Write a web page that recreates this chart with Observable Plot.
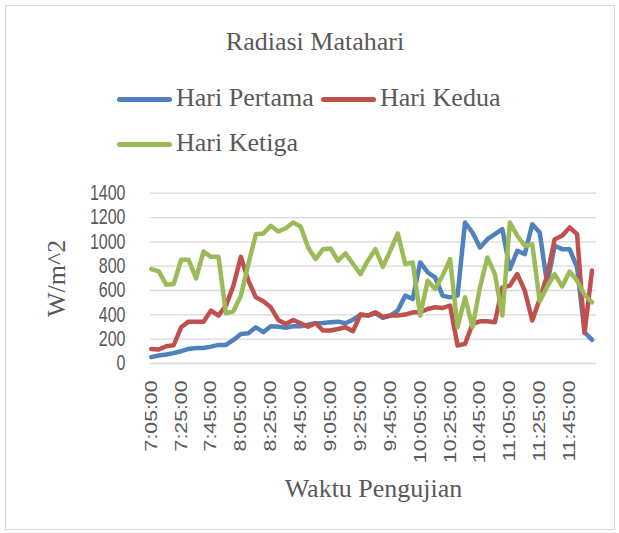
<!DOCTYPE html>
<html>
<head>
<meta charset="utf-8">
<script src="https://cdn.jsdelivr.net/npm/d3@7"></script>
<script src="https://cdn.jsdelivr.net/npm/@observablehq/plot@0.6"></script>
<style>
  body { margin: 0; background: #fff; }
  #chart { position: relative; width: 619px; height: 533px; overflow: hidden; }
  .frame { position: absolute; left: 5px; top: 5px; width: 608px; height: 523px; border: 1px solid #d9d9d9; }
  .serif { font-family: "Liberation Serif", "Times New Roman", serif; font-size: 26px; line-height: 26px; color: #595959; white-space: nowrap; }
  .title { position: absolute; left: 315px; top: 29px; transform: translateX(-50%); }
  .lrow { position: absolute; left: 117px; display: flex; align-items: center; }
  .item { display: flex; align-items: center; margin-right: 7px; }
  .sw { width: 55px; height: 5px; border-radius: 3px; margin-right: 4px; margin-top: 2px; }
  #plot { position: absolute; left: 0; top: 165px; }
</style>
</head>
<body>
<div id="chart">
  <div class="frame"></div>
  <div class="title serif" id="title"></div>
  <div id="legend"></div>
  <div id="plot"></div>
</div>
<script>
const chartTitle = "Radiasi Matahari";
const xTitle = "Waktu Pengujian";
const yTitle = "W/m^2";

const times = [
  "7:05:00","7:10:00","7:15:00","7:20:00","7:25:00","7:30:00","7:35:00","7:40:00","7:45:00","7:50:00",
  "7:55:00","8:00:00","8:05:00","8:10:00","8:15:00","8:20:00","8:25:00","8:30:00","8:35:00","8:40:00",
  "8:45:00","8:50:00","8:55:00","9:00:00","9:05:00","9:10:00","9:15:00","9:20:00","9:25:00","9:30:00",
  "9:35:00","9:40:00","9:45:00","9:50:00","9:55:00","10:00:00","10:05:00","10:10:00","10:15:00","10:20:00",
  "10:25:00","10:30:00","10:35:00","10:40:00","10:45:00","10:50:00","10:55:00","11:00:00","11:05:00","11:10:00",
  "11:15:00","11:20:00","11:25:00","11:30:00","11:35:00","11:40:00","11:45:00","11:50:00","11:55:00","12:00:00"
];

const hariPertama = [
  52, 66, 74, 85, 101, 120, 128, 128, 139, 153,
  153, 194, 243, 249, 298, 257, 306, 303, 293, 306,
  306, 320, 331, 333, 339, 344, 331, 360, 400, 394,
  413, 375, 394, 435, 558, 530, 831, 749, 708, 558,
  544, 558, 1159, 1077, 954, 1022, 1063, 1104, 776, 927,
  899, 1145, 1077, 650, 968, 940, 940, 790, 257, 194
];

const hariKedua = [
  120, 115, 142, 150, 298, 344, 344, 344, 435, 394,
  476, 640, 877, 681, 544, 511, 462, 358, 325, 358,
  331, 303, 331, 271, 271, 284, 298, 265, 402, 394,
  421, 383, 394, 394, 402, 421, 421, 448, 462, 457,
  476, 148, 161, 325, 347, 347, 339, 626, 640, 735,
  599, 353, 530, 725, 1022, 1050, 1118, 1063, 250, 765
];

const hariKetiga = [
  776, 757, 648, 653, 853, 853, 700, 921, 877, 877,
  413, 429, 558, 817, 1063, 1069, 1132, 1085, 1112, 1159,
  1126, 954, 858, 940, 946, 845, 905, 820, 735, 845,
  940, 795, 927, 1069, 818, 831, 394, 681, 612, 722,
  858, 298, 544, 298, 626, 872, 735, 394, 1159, 1050,
  968, 981, 510, 633, 735, 633, 756, 680, 565, 503
];

const yTicks = [0, 200, 400, 600, 800, 1000, 1200, 1400];
const xTickLabels = ["7:05:00","7:25:00","7:45:00","8:05:00","8:25:00","8:45:00","9:05:00","9:25:00",
  "9:45:00","10:05:00","10:25:00","10:45:00","11:05:00","11:25:00","11:45:00"];

const seriesNames = ["Hari Pertama", "Hari Kedua", "Hari Ketiga"];
const seriesColors = ["#4f81bd", "#c0504d", "#9bbb59"];
const legendRows = [[0, 1], [2]];

const seriesValues = [hariPertama, hariKedua, hariKetiga];
const data = seriesValues.flatMap((vals, s) =>
  vals.map((v, i) => ({i, time: times[i], value: v, series: seriesNames[s]})));
const xTickIdx = xTickLabels.map(t => times.indexOf(t));

// title & legend (above the svg)
document.getElementById("title").textContent = chartTitle;
const legend = document.getElementById("legend");
legendRows.forEach((row, r) => {
  const div = document.createElement("div");
  div.className = "lrow serif";
  div.style.top = (85 + r * 45) + "px";
  row.forEach(s => {
    const item = document.createElement("div");
    item.className = "item";
    const sw = document.createElement("span");
    sw.className = "sw";
    sw.style.background = seriesColors[s];
    const lab = document.createElement("span");
    lab.textContent = seriesNames[s];
    item.appendChild(sw); item.appendChild(lab);
    div.appendChild(item);
  });
  legend.appendChild(div);
});

const plot = Plot.plot({
  width: 619,
  height: 368,
  marginTop: 27.7,
  marginBottom: 170,
  marginLeft: 150,
  marginRight: 23,
  style: {fontFamily: "'Liberation Sans', Arial, sans-serif", color: "#595959", background: "transparent", overflow: "visible"},
  x: {type: "linear", domain: [-0.1, 59.6]},
  y: {domain: [0, 1400]},
  color: {domain: seriesNames, range: seriesColors},
  marks: [
    Plot.gridY(yTicks, {stroke: "#d9d9d9", strokeOpacity: 1, strokeWidth: 1.3}),
    Plot.axisY(yTicks, {tickSize: 0, tickPadding: 25, fontSize: 16, label: null,
      tickFormat: d => String(d)}),
    Plot.axisX(xTickIdx, {tickSize: 0, tickPadding: 17, tickRotate: -90, fontSize: 17,
      tickFormat: i => times[i], label: null}),
    Plot.line(data, {x: "i", y: "value", z: "series", stroke: "series", strokeWidth: 4.5,
      strokeLinejoin: "round", strokeLinecap: "round"}),
    Plot.text([xTitle], {text: d => d, frameAnchor: "bottom", dy: 133.5, fontSize: 26,
      fontFamily: "'Liberation Serif', serif", fill: "#595959"}),
    Plot.text([yTitle], {text: d => d, frameAnchor: "left", rotate: -90, dx: -94.3, fontSize: 26,
      textAnchor: "middle", fontFamily: "'Liberation Serif', serif", fill: "#595959"})
  ]
});
document.getElementById("plot").appendChild(plot);

// stretch the tick labels along the vertical direction, as in the reference
function stretch(sel, sx, sy) {
  plot.querySelectorAll(sel).forEach(t => {
    const tr = t.getAttribute("transform");
    if (tr && tr.includes("translate")) {
      t.setAttribute("transform", tr + ` scale(${sx},${sy})`);
    }
  });
}
stretch('g[aria-label="x-axis tick label"] text', 1.25, 1);
stretch('g[aria-label="y-axis tick label"] text', 1, 1.35);
</script>
</body>
</html>
